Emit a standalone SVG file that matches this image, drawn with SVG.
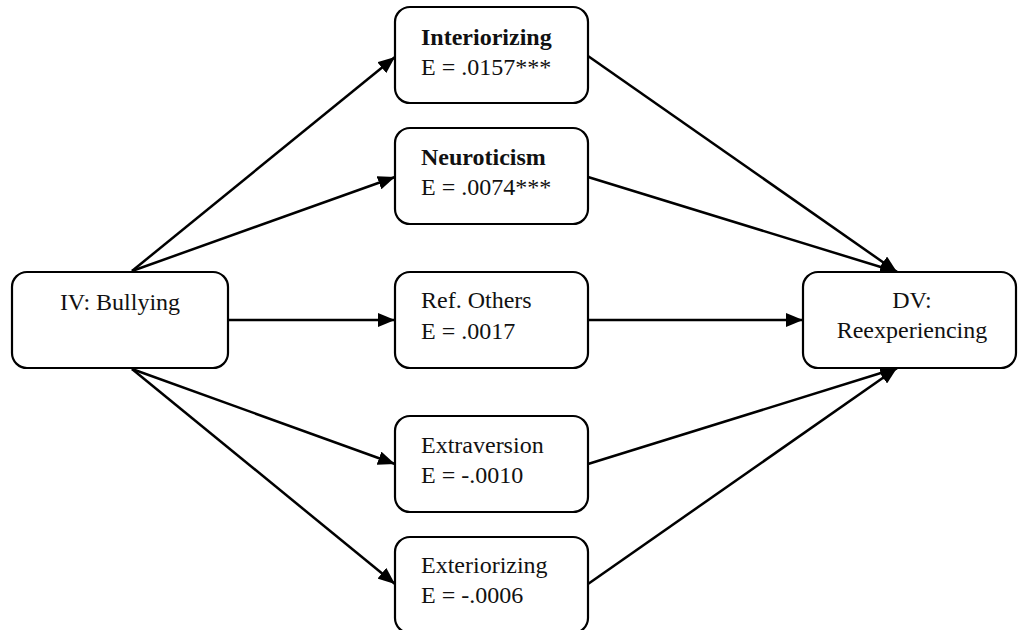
<svg xmlns="http://www.w3.org/2000/svg" width="1018" height="630" viewBox="0 0 1018 630">
<style>
.box{fill:#fff;stroke:#000;stroke-width:2.2}
text{font-family:'Liberation Serif','DejaVu Serif',serif;font-size:24px;fill:#111}
.b{font-weight:bold}
.c{text-anchor:middle}
.e{stroke:#000;stroke-width:2.5;fill:none;marker-end:url(#ah)}
</style>
<defs>
<marker id="ah" markerUnits="userSpaceOnUse" markerWidth="18" markerHeight="14" refX="17" refY="7" orient="auto">
<path d="M0,0 L17,7 L0,14 z" fill="#000"/>
</marker>
</defs>
<rect width="1018" height="630" fill="#fff"/>
<g id="connectors">
<line class="e" x1="132" y1="271" x2="395" y2="57"/>
<line class="e" x1="132" y1="271" x2="395" y2="177"/>
<line class="e" x1="228" y1="320" x2="395" y2="320"/>
<line class="e" x1="132" y1="369" x2="395" y2="464"/>
<line class="e" x1="132" y1="369" x2="395" y2="584"/>
<line class="e" x1="588" y1="56" x2="897" y2="272"/>
<line class="e" x1="588" y1="177" x2="897" y2="272"/>
<line class="e" x1="588" y1="320" x2="803" y2="320"/>
<line class="e" x1="588" y1="464" x2="897" y2="368"/>
<line class="e" x1="588" y1="584" x2="897" y2="368"/>
</g>
<g id="iv" font-family="Liberation Serif, serif">
<rect class="box" x="12" y="272" width="216" height="96" rx="15"/>
<text class="c" x="120" y="310">IV: Bullying</text>
</g>
<g id="interiorizing">
<rect class="box" x="395" y="7" width="193" height="96" rx="15"/>
<text class="b" x="421" y="45">Interiorizing</text>
<text x="421" y="75">E = .0157***</text>
</g>
<g id="neuroticism">
<rect class="box" x="395" y="128" width="193" height="96" rx="15"/>
<text class="b" x="421" y="165">Neuroticism</text>
<text x="421" y="195">E = .0074***</text>
</g>
<g id="refothers">
<rect class="box" x="395" y="272" width="193" height="96" rx="15"/>
<text x="421" y="308">Ref. Others</text>
<text x="421" y="339">E = .0017</text>
</g>
<g id="extraversion">
<rect class="box" x="395" y="416" width="193" height="96" rx="15"/>
<text x="421" y="453">Extraversion</text>
<text x="421" y="483">E = -.0010</text>
</g>
<g id="exteriorizing">
<rect class="box" x="395" y="537" width="193" height="96" rx="15"/>
<text x="421" y="573">Exteriorizing</text>
<text x="421" y="603">E = -.0006</text>
</g>
<g id="dv">
<rect class="box" x="803" y="272" width="213" height="96" rx="15"/>
<text class="c" x="912" y="308">DV:</text>
<text class="c" x="912" y="338">Reexperiencing</text>
</g>
</svg>
